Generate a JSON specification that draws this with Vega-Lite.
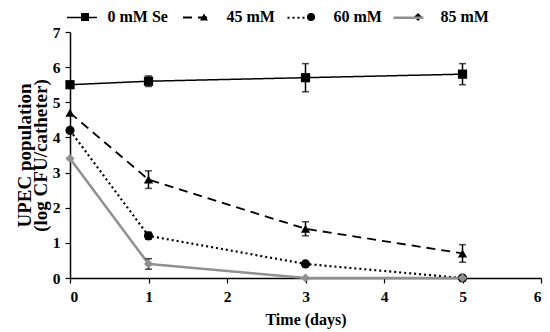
{
  "$schema": "https://vega.github.io/schema/vega-lite/v6.json",
  "autosize": {"type": "none"},
  "width": 471,
  "height": 246,
  "padding": {"left": 70, "top": 32, "right": 9, "bottom": 54},
  "background": "white",
  "config": {
    "view": {"stroke": null},
    "font": "Liberation Serif",
    "axis": {"grid": false, "domainColor": "black", "tickColor": "black", "domainWidth": 1.5, "tickWidth": 1.2, "tickSize": 5, "labelFont": "Liberation Serif", "labelFontWeight": "bold", "labelFontSize": 15.5, "labelColor": "black", "titleFont": "Liberation Serif", "titleFontWeight": "bold", "titleColor": "black"},
    "legend": {"labelFont": "Liberation Serif", "labelFontWeight": "bold", "labelFontSize": 16, "labelColor": "black"}
  },
  "data": {"values": [
    {"series": "0 mM Se", "day": 0, "value": 5.5, "lo": 5.5, "hi": 5.5},
    {"series": "0 mM Se", "day": 1, "value": 5.6, "lo": 5.45, "hi": 5.75},
    {"series": "0 mM Se", "day": 3, "value": 5.7, "lo": 5.3, "hi": 6.1},
    {"series": "0 mM Se", "day": 5, "value": 5.8, "lo": 5.5, "hi": 6.1},
    {"series": "45 mM", "day": 0, "value": 4.7, "lo": 4.7, "hi": 4.7},
    {"series": "45 mM", "day": 1, "value": 2.8, "lo": 2.55, "hi": 3.05},
    {"series": "45 mM", "day": 3, "value": 1.4, "lo": 1.2, "hi": 1.6},
    {"series": "45 mM", "day": 5, "value": 0.7, "lo": 0.45, "hi": 0.95},
    {"series": "60 mM", "day": 0, "value": 4.2, "lo": 4.2, "hi": 4.2},
    {"series": "60 mM", "day": 1, "value": 1.2, "lo": 1.1, "hi": 1.3},
    {"series": "60 mM", "day": 3, "value": 0.4, "lo": 0.4, "hi": 0.4},
    {"series": "60 mM", "day": 5, "value": 0.0, "lo": 0.0, "hi": 0.0},
    {"series": "85 mM", "day": 0, "value": 3.4, "lo": 3.4, "hi": 3.4},
    {"series": "85 mM", "day": 1, "value": 0.4, "lo": 0.25, "hi": 0.55},
    {"series": "85 mM", "day": 3, "value": 0.0, "lo": 0.0, "hi": 0.0},
    {"series": "85 mM", "day": 5, "value": 0.0, "lo": 0.0, "hi": 0.0}
  ]},
  "encoding": {
    "x": {"field": "day", "type": "quantitative", "scale": {"domain": [0, 6], "nice": false}, "axis": {"title": "Time (days)", "titleFontSize": 16, "values": [0,1,2,3,4,5,6], "format": "d", "labelPadding": 6, "titlePadding": 7}}
  },
  "layer": [
    {
      "mark": {"type": "line"},
      "encoding": {
        "y": {"field": "value", "type": "quantitative", "scale": {"domain": [0, 7], "nice": false}, "axis": {"title": ["UPEC population", "(log CFU/catheter)"], "titleFontSize": 19, "titleLineHeight": 16, "values": [0,1,2,3,4,5,6,7], "format": "d", "labelPadding": 5, "titlePadding": 2}},
        "detail": {"field": "series"},
        "color": {"field": "series", "type": "nominal", "scale": {"domain": ["0 mM Se", "45 mM", "60 mM", "85 mM"], "range": ["black", "black", "black", "#909090"]}, "legend": {"title": null, "orient": "none", "legendX": -4, "legendY": -31, "direction": "horizontal", "symbolType": "stroke", "symbolSize": 900, "labelOffset": 3.5, "columnPadding": 17, "labelOpacity": 0}},
        "strokeDash": {"field": "series", "type": "nominal", "scale": {"domain": ["0 mM Se", "45 mM", "60 mM", "85 mM"], "range": [[1, 0], [9, 6], [2, 3], [1, 0]]}, "legend": {"title": null, "orient": "none", "legendX": -4, "legendY": -31, "direction": "horizontal", "symbolType": "stroke", "symbolSize": 900, "labelOffset": 3.5, "columnPadding": 17, "labelOpacity": 0}},
        "strokeWidth": {"field": "series", "type": "nominal", "scale": {"domain": ["0 mM Se", "45 mM", "60 mM", "85 mM"], "range": [1.5, 2.5, 2, 2.5]}, "legend": {"title": null, "orient": "none", "legendX": -4, "legendY": -31, "direction": "horizontal", "symbolType": "stroke", "symbolSize": 900, "labelOffset": 3.5, "columnPadding": 17, "labelOpacity": 0}}
      }
    },
    {
      "transform": [{"filter": "datum.hi > datum.lo"}],
      "mark": {"type": "rule", "color": "black", "strokeWidth": 1.5},
      "encoding": {
        "y": {"field": "lo", "type": "quantitative", "scale": {"domain": [0, 7], "nice": false}, "axis": {"title": ["UPEC population", "(log CFU/catheter)"], "titleFontSize": 19, "titleLineHeight": 16, "values": [0,1,2,3,4,5,6,7], "format": "d", "labelPadding": 5, "titlePadding": 2}},
        "y2": {"field": "hi"}
      }
    },
    {
      "transform": [{"filter": "datum.hi > datum.lo"}],
      "mark": {"type": "tick", "orient": "horizontal", "color": "black", "size": 7, "thickness": 1.5},
      "encoding": {"y": {"field": "lo", "type": "quantitative", "scale": {"domain": [0, 7], "nice": false}, "axis": {"title": ["UPEC population", "(log CFU/catheter)"], "titleFontSize": 19, "titleLineHeight": 16, "values": [0,1,2,3,4,5,6,7], "format": "d", "labelPadding": 5, "titlePadding": 2}}}
    },
    {
      "transform": [{"filter": "datum.hi > datum.lo"}],
      "mark": {"type": "tick", "orient": "horizontal", "color": "black", "size": 7, "thickness": 1.5},
      "encoding": {"y": {"field": "hi", "type": "quantitative", "scale": {"domain": [0, 7], "nice": false}, "axis": {"title": ["UPEC population", "(log CFU/catheter)"], "titleFontSize": 19, "titleLineHeight": 16, "values": [0,1,2,3,4,5,6,7], "format": "d", "labelPadding": 5, "titlePadding": 2}}}
    },
    {
      "mark": {"type": "point", "filled": true, "opacity": 1, "size": 85},
      "encoding": {
        "y": {"field": "value", "type": "quantitative", "scale": {"domain": [0, 7], "nice": false}, "axis": {"title": ["UPEC population", "(log CFU/catheter)"], "titleFontSize": 19, "titleLineHeight": 16, "values": [0,1,2,3,4,5,6,7], "format": "d", "labelPadding": 5, "titlePadding": 2}},
        "shape": {"field": "series", "type": "nominal", "scale": {"domain": ["0 mM Se", "45 mM", "60 mM", "85 mM"], "range": ["square", "triangle-up", "circle", "diamond"]}, "legend": {"title": null, "orient": "top", "padding": 7, "offset": 0, "direction": "horizontal", "symbolSize": 64, "symbolStrokeWidth": 0, "symbolOpacity": 1, "symbolFillColor": "black", "labelOffset": 14.5, "columnPadding": 28}},
        "color": {"field": "series", "type": "nominal", "scale": {"domain": ["0 mM Se", "45 mM", "60 mM", "85 mM"], "range": ["black", "black", "black", "#909090"]}, "legend": null}
      }
    }
  ],
  "resolve": {"scale": {"color": "independent", "strokeDash": "independent", "strokeWidth": "independent"}}
}
